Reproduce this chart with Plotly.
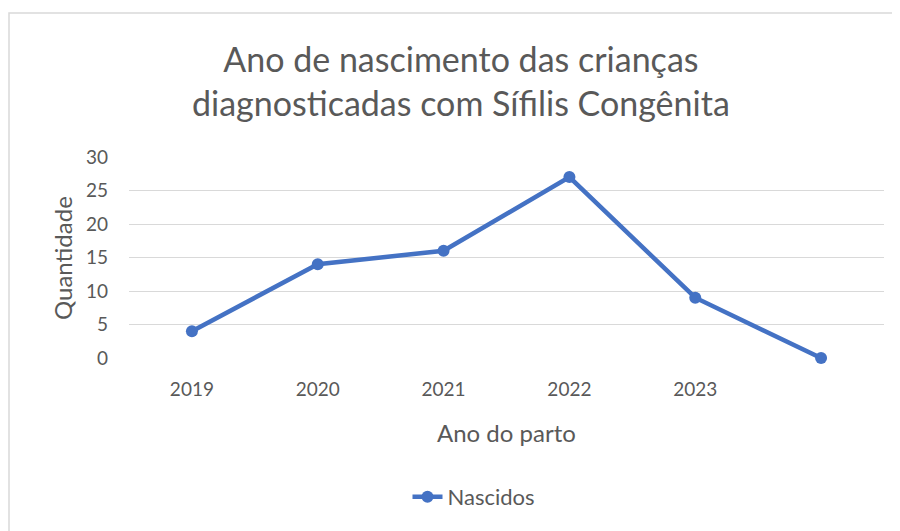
import plotly.graph_objects as go

years = ["2019", "2020", "2021", "2022", "2023", ""]
nascidos = [4, 14, 16, 27, 9, 0]
y_ticks = [0, 5, 10, 15, 20, 25, 30]

FONT = "Lato"
GREY = "#595959"
BLUE = "#4472C4"

# page body has an 8px margin; work in reference pixel coords shifted by it
OFF = 8
W, H = 900 - OFF, 531 - OFF
L, R, T, B = 129 - OFF, 16, 157 - OFF, 531 - 358
pw = W - L - R
ph = H - T - B

def px(x):
    return (x - OFF - L) / pw

def py(y):
    return (H - B - (y - OFF)) / ph

xs = list(range(len(years)))

fig = go.Figure()
fig.add_trace(go.Scatter(
    x=xs, y=nascidos, mode="lines+markers", name="Nascidos",
    line=dict(color=BLUE, width=4.5),
    marker=dict(color=BLUE, size=12),
    cliponaxis=False,
))

fig.update_layout(
    width=W, height=H,
    margin=dict(l=L, r=R, t=T, b=B),
    paper_bgcolor="white", plot_bgcolor="white",
    font=dict(family=FONT, color=GREY, size=19),
    showlegend=True,
    legend=dict(x=px(474), y=py(497), xanchor="center", yanchor="middle",
                orientation="h", font=dict(family=FONT, size=22, color=GREY),
                bgcolor="rgba(0,0,0,0)"),
    xaxis=dict(range=[-0.5, len(years) - 0.5], tickmode="array", tickvals=xs,
               ticktext=years, showgrid=False, zeroline=False, showline=False,
               ticks="", ticklabelstandoff=18,
               tickfont=dict(family=FONT, size=19, color=GREY)),
    yaxis=dict(range=[0, 30], tickmode="array", tickvals=y_ticks,
               showgrid=True, gridcolor="#d9d9d9", gridwidth=1,
               zeroline=False, showline=False, ticks="", ticklabelstandoff=20,
               tickfont=dict(family=FONT, size=19, color=GREY)),
    annotations=[
        dict(text="Ano de nascimento das crianças<br>diagnosticadas com Sífilis Congênita",
             x=px(461), y=py(81), xref="paper", yref="paper",
             xanchor="center", yanchor="middle", showarrow=False,
             font=dict(family=FONT, size=34, color=GREY)),
        dict(text="Quantidade", textangle=-90,
             x=px(62), y=py(258), xref="paper", yref="paper",
             xanchor="center", yanchor="middle", showarrow=False,
             font=dict(family=FONT, size=24, color=GREY)),
        dict(text="Ano do parto",
             x=px(506), y=py(432), xref="paper", yref="paper",
             xanchor="center", yanchor="middle", showarrow=False,
             font=dict(family=FONT, size=24, color=GREY)),
    ],
    shapes=[
        dict(type="rect", xref="paper", yref="paper",
             x0=px(9), x1=px(920), y0=py(560), y1=py(13),
             line=dict(color="#d9d9d9", width=1.5), layer="below"),
    ],
)

fig.write_html("out.html")
